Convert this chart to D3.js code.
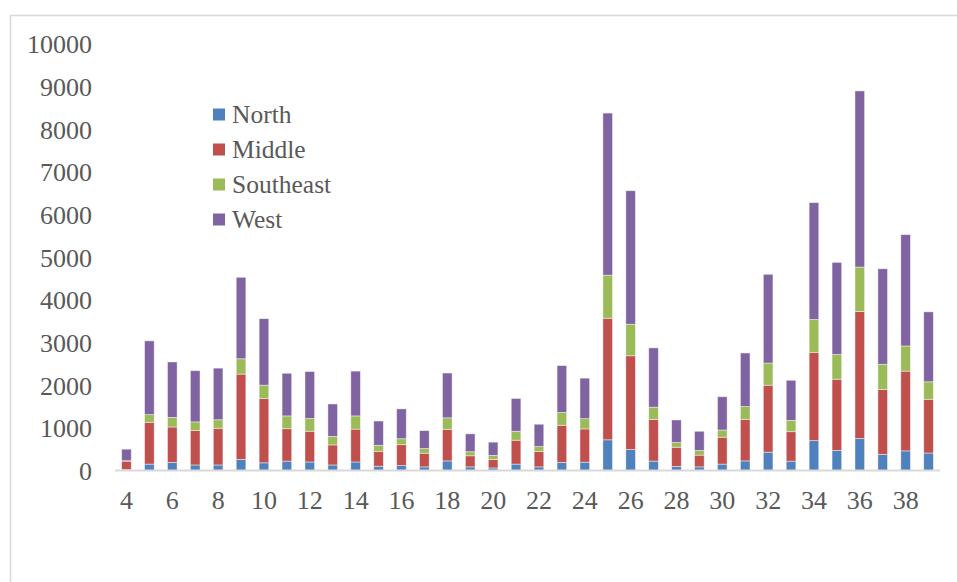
<!DOCTYPE html>
<html>
<head>
<meta charset="utf-8">
<script src="https://cdn.jsdelivr.net/npm/d3@7"></script>
<style>
  html, body { margin: 0; padding: 0; background: #fff; }
  svg { display: block; }
  text { font-family: "Liberation Serif", "Times New Roman", serif; fill: #595959; }
</style>
</head>
<body>
<script>
// Weekly counts by region
const categories = [4,5,6,7,8,9,10,11,12,13,14,15,16,17,18,19,20,21,22,23,24,25,26,27,28,29,30,31,32,33,34,35,36,37,38,39];
const north     = [20,150,190,130,130,260,180,220,200,130,200,100,115,85,225,85,60,150,85,190,195,720,490,220,95,85,150,225,430,220,700,470,750,380,460,410];
const middle    = [200,980,830,810,860,2000,1510,760,720,470,770,350,490,320,740,260,200,560,360,870,780,2850,2200,975,450,275,630,975,1570,690,2070,1670,2980,1520,1870,1260];
const southeast = [10,180,225,200,200,360,310,300,300,200,310,140,140,110,270,95,95,210,115,300,240,1010,740,290,110,110,170,300,520,265,770,580,1040,590,590,410];
const west      = [270,1730,1300,1200,1210,1910,1560,1000,1100,760,1050,570,700,420,1050,420,310,770,525,1100,950,3800,3130,1390,530,450,780,1255,2080,940,2740,2160,4130,2240,2610,1640];
const seriesNames = ["North", "Middle", "Southeast", "West"];
const colors = ["#4F81BD", "#C0504D", "#9BBB59", "#8064A2"];
const yTicks = [0,1000,2000,3000,4000,5000,6000,7000,8000,9000,10000];
const xTickLabels = [4,6,8,10,12,14,16,18,20,22,24,26,28,30,32,34,36,38];

const W = 957, H = 582;
const svg = d3.select("body").append("svg").attr("width", W).attr("height", H);

// outer frame (top and left edges visible)
svg.append("path")
  .attr("d", `M10.5,${H} L10.5,15.5 L${W},15.5`)
  .attr("fill", "none").attr("stroke", "#d9d9d9").attr("stroke-width", 1.5);

const x = d3.scaleBand().domain(categories).range([115, 940]).paddingInner(0.58).paddingOuter(0.29);
const y = d3.scaleLinear().domain([0, 10000]).range([470.5, 44]);

const rows = categories.map((c, i) => ({
  cat: c, North: north[i], Middle: middle[i], Southeast: southeast[i], West: west[i]
}));
const stacked = d3.stack().keys(seriesNames)(rows);

svg.append("g").selectAll("g").data(stacked).join("g")
  .attr("fill", (d, i) => colors[i])
  .selectAll("rect").data(d => d).join("rect")
  .attr("x", d => x(d.data.cat))
  .attr("width", x.bandwidth())
  .attr("y", d => y(d[1]))
  .attr("height", d => Math.max(0, y(d[0]) - y(d[1])))
  .attr("stroke", "rgba(255,255,255,0.55)")
  .attr("stroke-width", 0.8);

// category axis baseline
svg.append("line")
  .attr("x1", 115).attr("x2", 940)
  .attr("y1", y(0)).attr("y2", y(0))
  .attr("stroke", "#d9d9d9").attr("stroke-width", 2);

// y tick labels
const yAxis = d3.axisLeft(y).tickValues(yTicks).tickSize(0).tickPadding(0).tickFormat(d3.format("d"));
const gy = svg.append("g").attr("transform", "translate(92,0)").call(yAxis);
gy.select(".domain").remove();
gy.selectAll("text").style("font-size", "26px").attr("fill", "#595959")
  .style("font-family", "'Liberation Serif', serif").attr("dy", "0.34em");

// x tick labels (every other category)
const xAxis = d3.axisBottom(x).tickValues(xTickLabels).tickSize(0).tickPadding(0);
const gx = svg.append("g").attr("transform", "translate(0,491)").call(xAxis);
gx.select(".domain").remove();
gx.selectAll("text").style("font-size", "26px").attr("fill", "#595959")
  .style("font-family", "'Liberation Serif', serif").attr("dy", "0.71em");

// legend
const legend = svg.append("g").selectAll("g").data(seriesNames).join("g")
  .attr("transform", (d, i) => `translate(213,${114.5 + i * 35})`);
legend.append("rect").attr("x", 0).attr("y", -6).attr("width", 12).attr("height", 12)
  .attr("fill", (d, i) => colors[i]);
legend.append("text").attr("x", 19).attr("y", 0).attr("dy", "0.35em")
  .style("font-size", "25.5px").text(d => d);
</script>
</body>
</html>
